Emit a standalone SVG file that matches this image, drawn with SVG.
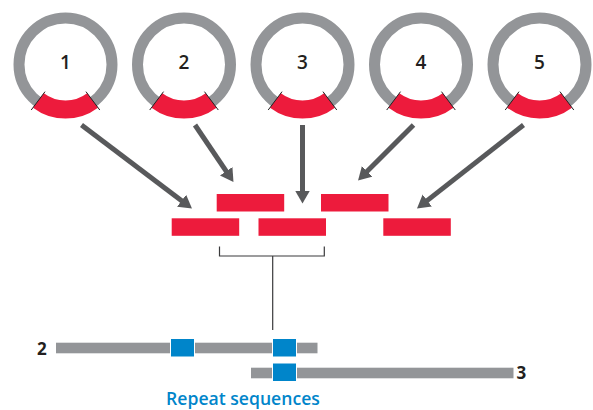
<svg xmlns="http://www.w3.org/2000/svg" width="593" height="410" viewBox="0 0 593 410">
<style>
.ring{fill:none;stroke:#939598;stroke-width:11}
.arc{fill:none;stroke:#ED1B3C;stroke-width:18;stroke-linecap:butt}
.tick{stroke:#231F20;stroke-width:1}
.num{font-family:"Open Sans","DejaVu Sans",sans-serif;font-weight:600;font-size:19px;fill:#231F20;text-anchor:middle}
.lbl{font-family:"Open Sans","DejaVu Sans",sans-serif;font-weight:700;font-size:17px;fill:#231F20}
.arrow{stroke:#58595B;stroke-width:5;fill:none;marker-end:url(#ah)}
.frag{fill:#ED1B3C}
.bar{fill:#939598}
.rep{fill:#0085CA;stroke:#fff;stroke-width:1}
.br{fill:none;stroke:#3A3A3C;stroke-width:1.2}
</style>
<defs>
<marker id="ah" markerUnits="userSpaceOnUse" markerWidth="16" markerHeight="16" refX="5" refY="7.5" orient="auto">
<path d="M0,0 L13,7.5 L0,15 z" fill="#58595B"/>
</marker>
<g id="plasmid">
<circle class="ring" cx="0" cy="0" r="46.5"/>
<path class="arc" d="M-27.08,35.94 A45,45 0 0 0 27.08,35.94"/>
<line class="tick" x1="-20.46" y1="27.15" x2="-34.3" y2="45.52"/>
<line class="tick" x1="20.46" y1="27.15" x2="34.3" y2="45.52"/>
</g>
</defs>
<g id="node1" transform="translate(65.5,64.5)"><use href="#plasmid"/><text class="num" x="0" y="4">1</text></g>
<g id="node2" transform="translate(184,64.5)"><use href="#plasmid"/><text class="num" x="0" y="4">2</text></g>
<g id="node3" transform="translate(302.5,64.5)"><use href="#plasmid"/><text class="num" x="0" y="4">3</text></g>
<g id="node4" transform="translate(421,64.5)"><use href="#plasmid"/><text class="num" x="0" y="4">4</text></g>
<g id="node5" transform="translate(539.5,64.5)"><use href="#plasmid"/><text class="num" x="0" y="4">5</text></g>
<g id="fragments">
<rect class="frag" x="216.7" y="194" width="67.5" height="17.5"/>
<rect class="frag" x="321" y="194" width="67.5" height="17.5"/>
<rect class="frag" x="171.7" y="218.3" width="67.5" height="17.5"/>
<rect class="frag" x="258.5" y="218.3" width="67.5" height="17.5"/>
<rect class="frag" x="383.3" y="218.3" width="67.5" height="17.5"/>
</g>
<g id="connectors">
<line class="arrow" x1="81.5" y1="125" x2="185.6" y2="203.7"/>
<line class="arrow" x1="195" y1="125" x2="229" y2="175.4"/>
<line class="arrow" x1="302.5" y1="125" x2="302.5" y2="195.5"/>
<line class="arrow" x1="413.5" y1="125" x2="363.7" y2="174.8"/>
<line class="arrow" x1="523.5" y1="125" x2="423.3" y2="203.6"/>
<path class="br" d="M219.5,246.5 V256 H324.3 V246.5 M272.7,256 V330"/>
</g>
<g id="seq2">
<text class="lbl" x="37" y="354.5">2</text>
<rect class="bar" x="56" y="342.7" width="261.5" height="10.6"/>
<rect class="rep" x="170.5" y="338.5" width="24" height="18.5"/>
<rect class="rep" x="272.5" y="338.5" width="24" height="18.5"/>
</g>
<g id="seq3">
<rect class="bar" x="251" y="367.7" width="262.5" height="10.6"/>
<rect class="rep" x="272.5" y="363" width="24" height="18.5"/>
<text class="lbl" x="516.5" y="379">3</text>
</g>
<text id="caption" x="243" y="405" font-family="'Open Sans','DejaVu Sans',sans-serif" font-weight="600" font-size="17.6" fill="#0085CA" text-anchor="middle">Repeat sequences</text>
</svg>
